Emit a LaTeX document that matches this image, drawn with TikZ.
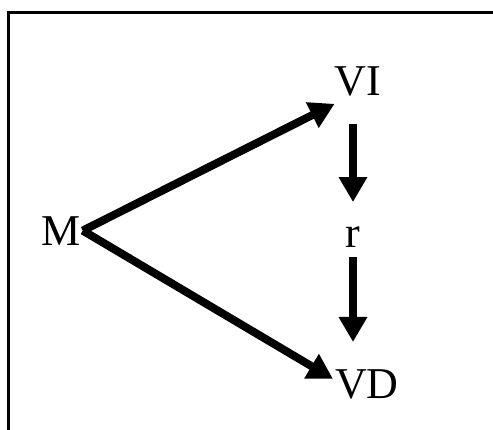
\documentclass[tikz,border=0pt]{standalone}
\usepackage{fontspec}
\setmainfont{Liberation Serif}
\usetikzlibrary{arrows.meta,calc}
\begin{document}
\begin{tikzpicture}[x=1pt,y=-1pt,
  lbl/.style={inner sep=0pt,anchor=base,font=\fontsize{44}{50}\selectfont},
  arr/.style={line width=8pt,-{Triangle[width=27pt,length=25pt]}},
  frame/.style={line width=3pt}]
\useasboundingbox (0,0) rectangle (493,429);
\draw[frame] (8,440) -- (8,12) -- (500,12);
\node[lbl] (M)  at (61,245) {M};
\node[lbl] (VI) at (358,95) {VI};
\node[lbl] (r)  at (353,247) {r};
\node[lbl] (VD) at (367,398) {VD};
\draw[arr] ([xshift=2pt]M.east) -- ([yshift=-8pt]VI.south west);
\draw[arr] ([xshift=2pt]M.east) -- ([shift={(-2pt,5pt)}]VD.west);
\draw[arr] ($(VI.south -| r.north)+(0,-28pt)$) -- ([yshift=24pt]r.north);
\draw[arr] ([yshift=-10pt]r.south) -- ([yshift=27pt]VD.north -| r.north);
\end{tikzpicture}
\end{document}
